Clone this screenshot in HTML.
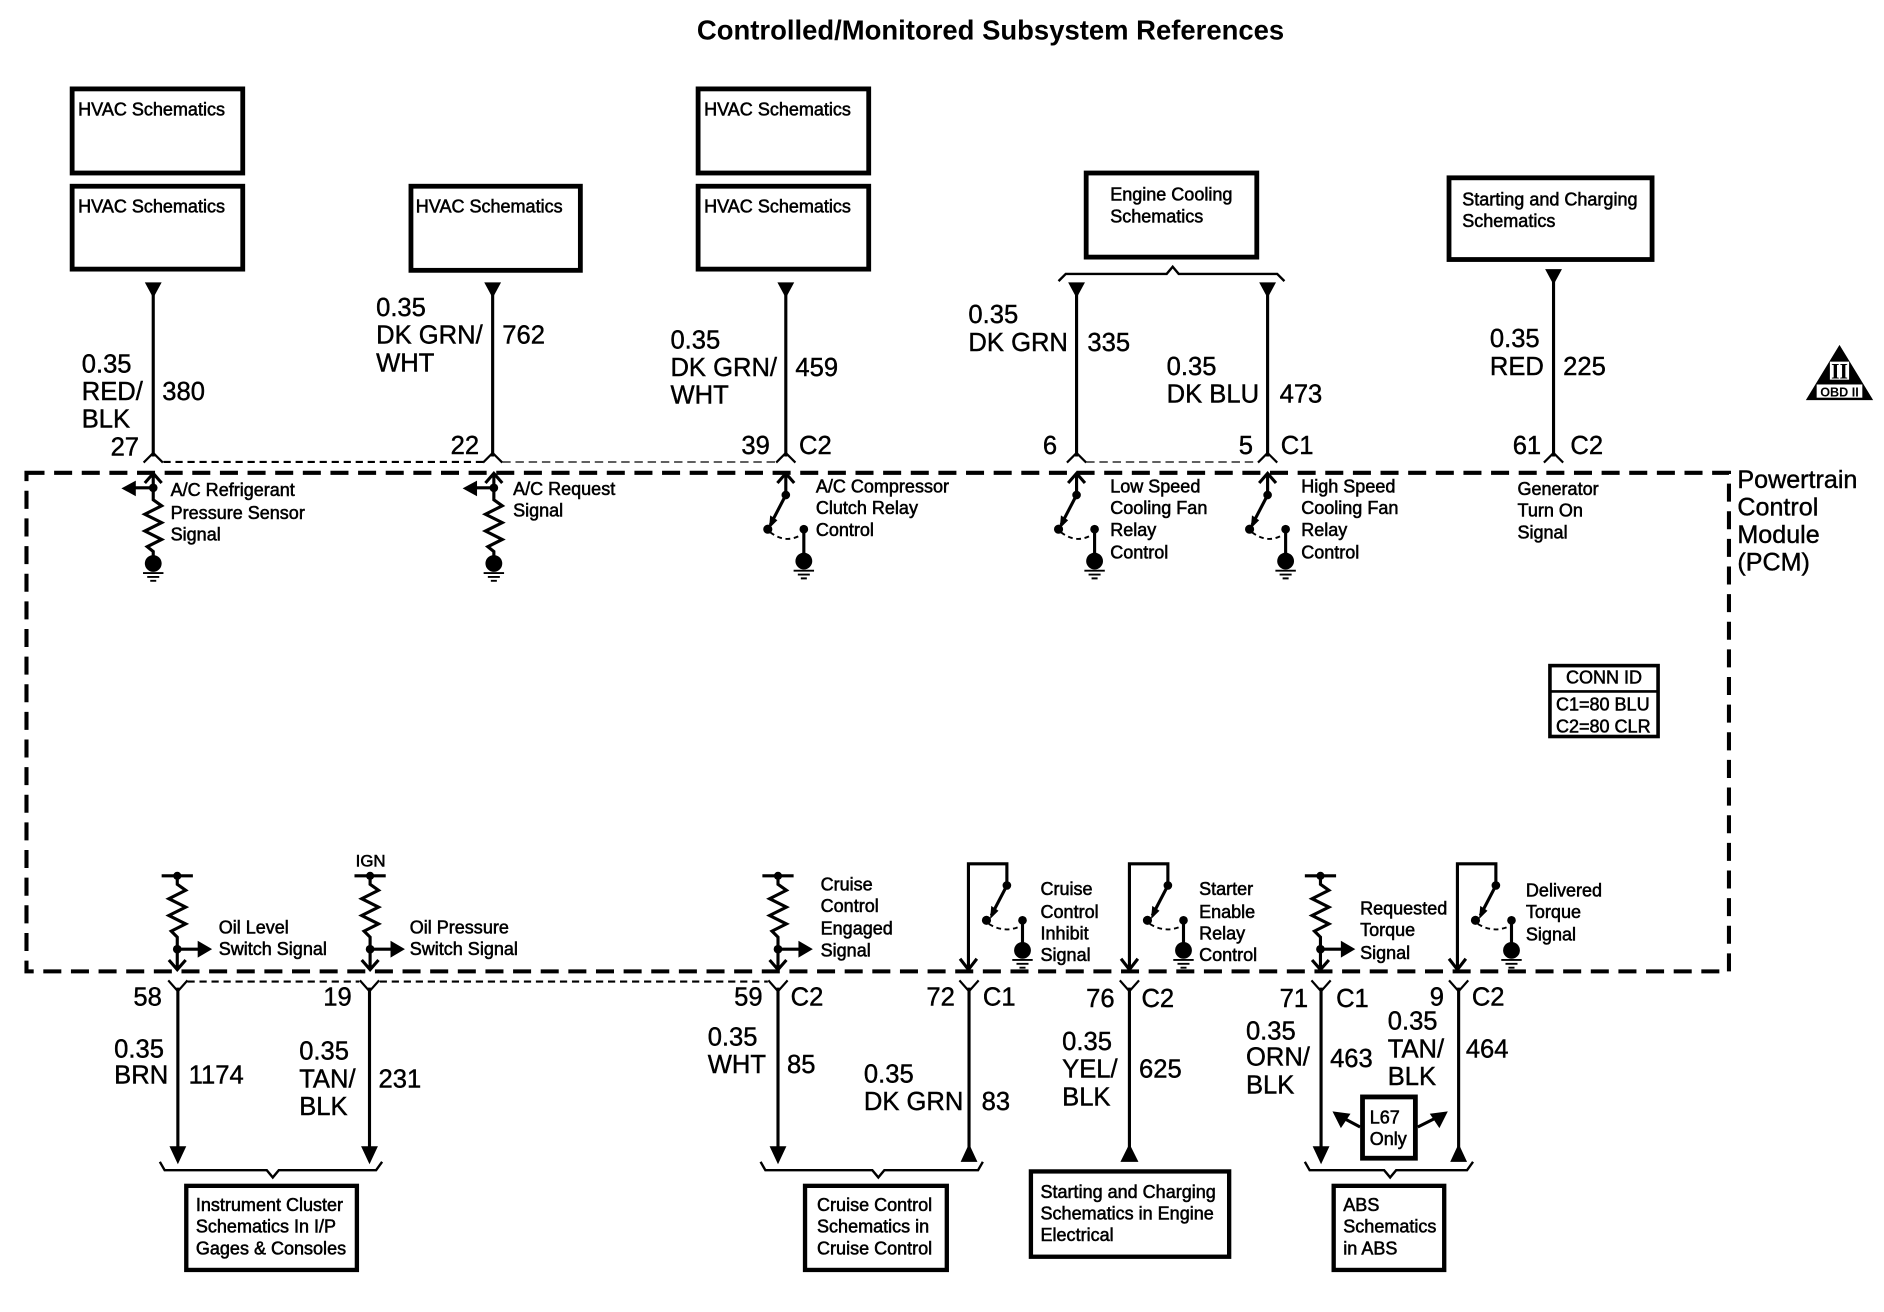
<!DOCTYPE html>
<html><head><meta charset="utf-8"><title>Controlled/Monitored Subsystem References</title>
<style>
html,body{margin:0;padding:0;background:#fff}
svg{display:block}
text{font-family:"Liberation Sans",Arial,sans-serif;fill:#000}
.l{font-size:21.3px;stroke:#000;stroke-width:.35px;transform:translate(0,-1px)}
.s{font-size:15px;stroke:#000;stroke-width:.45px}
.w{fill:none;stroke:#000;stroke-width:2.6}
.b{fill:#fff;stroke:#000;stroke-width:4}
.b2{fill:#fff;stroke:#000;stroke-width:3.6}
</style></head><body>
<svg xmlns="http://www.w3.org/2000/svg" width="1884" height="1312" viewBox="0 0 1568 1092">
<defs>
<g id="gnd"><circle r="7" fill="#000"/><path d="M-8.5,8H8.5M-5,11.2H5M-2.5,14.4H2.5" stroke="#000" stroke-width="1.6" fill="none"/></g>
<g id="pd"><path class="w" d="M-7,9L0,1L7,9M0,1V23L7,28L-7,35L7,42L-7,49L7,56L-5,62L0,66V72"/><circle cy="13" r="3.6" fill="#000"/><use href="#gnd" y="76"/></g>
<g id="sw"><path class="w" d="M-7,9L0,1L7,9M0,1V19"/><circle cy="19" r="3.6" fill="#000"/><path class="w" d="M0,19L-13,44"/><path d="M-14,47L-13,36L-7,40Z" fill="#000"/><circle cx="-15" cy="47.5" r="3.8" fill="#000"/><circle cx="15" cy="47.5" r="3.6" fill="#000"/><path d="M-13,50Q0,60 13,52" fill="none" stroke="#000" stroke-width="1.6" stroke-dasharray="4 3"/><path class="w" d="M15,47V74"/><use href="#gnd" x="15" y="74"/></g>
<g id="bpu"><path class="w" d="M-13,-79H13M0,-79V-72L7,-67L-7,-60L7,-53L-7,-46L7,-39L-5,-33L0,-28V-2M-7,-9L0,-1L7,-9M0,-18H18"/><circle cy="-79" r="3.4" fill="#000"/><circle cy="-18" r="3.6" fill="#000"/><path d="M17,-25L29,-18L17,-11Z" fill="#000"/></g>
<g id="bsw"><path class="w" d="M0,-2V-89H32V-71M-7,-10L0,-1L7,-10"/><circle cx="32" cy="-71" r="3.6" fill="#000"/><path class="w" d="M32,-71L19,-46"/><path d="M18,-43L19,-54L25,-50Z" fill="#000"/><circle cx="15" cy="-42" r="3.8" fill="#000"/><circle cx="45" cy="-42" r="3.6" fill="#000"/><path d="M17,-39Q30,-31 43,-37" fill="none" stroke="#000" stroke-width="1.6" stroke-dasharray="4 3"/><path class="w" d="M45,-42V-17"/><use href="#gnd" x="45" y="-17"/></g>
<g id="td"><path d="M-7,0H7L0,13Z" fill="#000"/></g>
<g id="con"><path d="M-8,7L0,-1L8,7" fill="none" stroke="#000" stroke-width="1.8"/></g>
<g id="conb"><path d="M-8,-4L0,5L8,-4" fill="none" stroke="#000" stroke-width="1.8"/></g>
</defs>

<text x="580" y="33" style="font-size:22.86px;font-weight:bold">Controlled/Monitored Subsystem References</text>

<!-- top boxes -->
<rect class="b" x="60" y="74" width="142" height="70"/>
<rect class="b" x="60" y="155" width="142" height="69"/>
<rect class="b" x="342" y="155" width="141" height="70"/>
<rect class="b" x="581" y="74" width="142" height="70"/>
<rect class="b" x="581" y="155" width="142" height="69"/>
<rect class="b" x="904" y="144" width="142" height="70"/>
<rect class="b" x="1206" y="148" width="169" height="68"/>
<text class="s" x="65" y="96">HVAC Schematics</text>
<text class="s" x="65" y="177">HVAC Schematics</text>
<text class="s" x="346" y="177">HVAC Schematics</text>
<text class="s" x="586" y="96">HVAC Schematics</text>
<text class="s" x="586" y="177">HVAC Schematics</text>
<text class="s" x="924" y="167">Engine Cooling</text>
<text class="s" x="924" y="185">Schematics</text>
<text class="s" x="1217" y="171">Starting and Charging</text>
<text class="s" x="1217" y="189">Schematics</text>

<!-- top brace -->
<path d="M881,234L887,228H971L976,222L981,228H1063L1069,234" fill="none" stroke="#000" stroke-width="2"/>

<!-- top wires -->
<path class="w" d="M127.5,240V380M410,240V380M654,240V380M896,240V380M1055,240V380M1293,230V380"/>
<use href="#td" x="127.5" y="235"/><use href="#td" x="410" y="235"/><use href="#td" x="654" y="235"/><use href="#td" x="896" y="235"/><use href="#td" x="1055" y="235"/><use href="#td" x="1293" y="224"/>
<use href="#con" x="127.5" y="378"/><use href="#con" x="410" y="378"/><use href="#con" x="654" y="378"/><use href="#con" x="896" y="378"/><use href="#con" x="1055" y="378"/><use href="#con" x="1293" y="378"/>
<path d="M136,384.500H402" fill="none" stroke="#000" stroke-width="1.800" stroke-dasharray="6 4"/>
<path d="M418,384.500H646M904,384.500H1047" fill="none" stroke="#000" stroke-width="1" stroke-dasharray="7 4"/>

<!-- PCM box -->
<rect x="22" y="393.500" width="1417" height="415" fill="none" stroke="#000" stroke-width="3.400" stroke-dasharray="15 8"/>

<text class="l" x="1446" y="407" style="font-size:20.9px">Powertrain</text>
<text class="l" x="1446" y="430" style="font-size:20.9px">Control</text>
<text class="l" x="1446" y="453" style="font-size:20.9px">Module</text>
<text class="l" x="1446" y="476" style="font-size:20.9px">(PCM)</text>

<!-- top internal -->
<use href="#pd" x="127.5" y="393"/><path class="w" d="M127.500,406H110"/><path d="M113,400L101,406.500L113,413Z" fill="#000"/>
<use href="#pd" x="411" y="393"/><path class="w" d="M411,406H394"/><path d="M397,400L385,406.500L397,413Z" fill="#000"/>
<use href="#sw" x="654" y="393"/><use href="#sw" x="896" y="393"/><use href="#sw" x="1055" y="393"/>

<text class="s" x="142" y="413">A/C Refrigerant</text><text class="s" x="142" y="432">Pressure Sensor</text><text class="s" x="142" y="450">Signal</text>
<text class="s" x="427" y="412">A/C Request</text><text class="s" x="427" y="430">Signal</text>
<text class="s" x="679" y="410">A/C Compressor</text><text class="s" x="679" y="428">Clutch Relay</text><text class="s" x="679" y="446">Control</text>
<text class="s" x="924" y="410">Low Speed</text><text class="s" x="924" y="428">Cooling Fan</text><text class="s" x="924" y="446">Relay</text><text class="s" x="924" y="465">Control</text>
<text class="s" x="1083" y="410">High Speed</text><text class="s" x="1083" y="428">Cooling Fan</text><text class="s" x="1083" y="446">Relay</text><text class="s" x="1083" y="465">Control</text>
<text class="s" x="1263" y="412">Generator</text><text class="s" x="1263" y="430">Turn On</text><text class="s" x="1263" y="448">Signal</text>

<!-- top wire labels -->
<text class="l" x="68" y="311">0.35</text><text class="l" x="68" y="334">RED/</text><text class="l" x="68" y="357">BLK</text><text class="l" x="135" y="334">380</text><text class="l" x="92" y="380">27</text>
<text class="l" x="313" y="264">0.35</text><text class="l" x="313" y="287">DK GRN/</text><text class="l" x="313" y="310">WHT</text><text class="l" x="418" y="287">762</text><text class="l" x="375" y="379">22</text>
<text class="l" x="558" y="291">0.35</text><text class="l" x="558" y="314">DK GRN/</text><text class="l" x="558" y="337">WHT</text><text class="l" x="662" y="314">459</text><text class="l" x="617" y="379">39</text><text class="l" x="665" y="379">C2</text>
<text class="l" x="806" y="270">0.35</text><text class="l" x="806" y="293">DK GRN</text><text class="l" x="905" y="293">335</text><text class="l" x="868" y="379">6</text>
<text class="l" x="971" y="313">0.35</text><text class="l" x="971" y="336">DK BLU</text><text class="l" x="1065" y="336">473</text><text class="l" x="1031" y="379">5</text><text class="l" x="1066" y="379">C1</text>
<text class="l" x="1240" y="290">0.35</text><text class="l" x="1240" y="313">RED</text><text class="l" x="1301" y="313">225</text><text class="l" x="1259" y="379">61</text><text class="l" x="1307" y="379">C2</text>

<!-- OBD badge -->
<path d="M1531,287L1559,333H1503Z" fill="#000"/>
<rect x="1523" y="301" width="16" height="15" fill="#fff"/>
<text x="1531" y="315" text-anchor="middle" style="font-family:'Liberation Serif',serif;font-weight:bold;font-size:18px">II</text>
<rect x="1512" y="320" width="38" height="11" fill="#fff"/>
<text x="1531" y="330" text-anchor="middle" style="font-size:10.500px;font-weight:bold">OBD II</text>

<!-- conn id -->
<rect x="1290" y="554" width="90" height="59" fill="#fff" stroke="#000" stroke-width="3"/>
<path d="M1290,575.500H1380" stroke="#000" stroke-width="2.200"/>
<text class="s" x="1335" y="569" text-anchor="middle">CONN ID</text>
<text class="s" x="1295" y="591.500">C1=80 BLU</text>
<text class="s" x="1295" y="609.500">C2=80 CLR</text>

<!-- bottom internal -->
<use href="#bpu" x="147.5" y="808"/><use href="#bpu" x="308" y="808"/><use href="#bpu" x="647.5" y="808"/><use href="#bpu" x="1099" y="808"/>
<use href="#bsw" x="806" y="808"/><use href="#bsw" x="940" y="808"/><use href="#bsw" x="1213" y="808"/>

<g transform="translate(0,-1)">
<text class="s" x="296" y="722" style="font-size:14px">IGN</text>
<text class="s" x="182" y="778">Oil Level</text><text class="s" x="182" y="796">Switch Signal</text>
<text class="s" x="341" y="778">Oil Pressure</text><text class="s" x="341" y="796">Switch Signal</text>
<text class="s" x="683" y="742">Cruise</text><text class="s" x="683" y="760">Control</text><text class="s" x="683" y="779">Engaged</text><text class="s" x="683" y="797">Signal</text>
<text class="s" x="866" y="746">Cruise</text><text class="s" x="866" y="765">Control</text><text class="s" x="866" y="783">Inhibit</text><text class="s" x="866" y="801">Signal</text>
<text class="s" x="998" y="746">Starter</text><text class="s" x="998" y="765">Enable</text><text class="s" x="998" y="783">Relay</text><text class="s" x="998" y="801">Control</text>
<text class="s" x="1132" y="762">Requested</text><text class="s" x="1132" y="780">Torque</text><text class="s" x="1132" y="799">Signal</text>
<text class="s" x="1270" y="747">Delivered</text><text class="s" x="1270" y="765">Torque</text><text class="s" x="1270" y="784">Signal</text>
</g>

<!-- bottom wires -->
<path class="w" d="M148,822V958M307.500,822V958M647.500,822V958M806.500,822V958M940,822V958M1099.500,822V958M1214,822V958"/>
<use href="#conb" x="148" y="820"/><use href="#conb" x="307.500" y="820"/><use href="#conb" x="647.500" y="820"/><use href="#conb" x="806.500" y="820"/><use href="#conb" x="940" y="820"/><use href="#conb" x="1099.500" y="820"/><use href="#conb" x="1214" y="820"/>
<path d="M156,817H299M316,817H639" fill="none" stroke="#000" stroke-width="1.800" stroke-dasharray="6 4"/>
<path d="M141,954H155L148,969Z M300.500,954H314.500L307.500,969Z M640.500,954H654.500L647.500,969Z M1092.500,954H1106.500L1099.500,969Z" fill="#000"/>
<path d="M799.500,967H813.500L806.500,952Z M932.500,967H947.500L940,952Z M1207,967H1221L1214,952Z" fill="#000"/>

<!-- bottom braces -->
<g fill="none" stroke="#000" stroke-width="2">
<path d="M133,967L137,974H222L227,980L232,974H313L318,967"/>
<path d="M633,967L637,974H726L731,980L736,974H814L818,967"/>
<path d="M1086,967L1090,974H1152L1157,980L1162,974H1221L1226,967"/>
</g>

<!-- bottom wire labels -->
<text class="l" x="111" y="838">58</text><text class="l" x="95" y="881">0.35</text><text class="l" x="95" y="903">BRN</text><text class="l" x="157" y="903">1174</text>
<text class="l" x="269" y="838">19</text><text class="l" x="249" y="883">0.35</text><text class="l" x="249" y="906">TAN/</text><text class="l" x="249" y="929">BLK</text><text class="l" x="315" y="906">231</text>
<text class="l" x="611" y="838">59</text><text class="l" x="658" y="838">C2</text><text class="l" x="589" y="871">0.35</text><text class="l" x="589" y="894">WHT</text><text class="l" x="655" y="894">85</text>
<text class="l" x="771" y="838">72</text><text class="l" x="818" y="838">C1</text><text class="l" x="719" y="902">0.35</text><text class="l" x="719" y="925">DK GRN</text><text class="l" x="817" y="925">83</text>
<text class="l" x="904" y="839">76</text><text class="l" x="950" y="839">C2</text><text class="l" x="884" y="875">0.35</text><text class="l" x="884" y="898">YEL/</text><text class="l" x="884" y="921">BLK</text><text class="l" x="948" y="898">625</text>
<text class="l" x="1065" y="839">71</text><text class="l" x="1112" y="839">C1</text><text class="l" x="1037" y="866">0.35</text><text class="l" x="1037" y="888">ORN/</text><text class="l" x="1037" y="911">BLK</text><text class="l" x="1107" y="889">463</text>
<text class="l" x="1190" y="838">9</text><text class="l" x="1225" y="838">C2</text><text class="l" x="1155" y="858">0.35</text><text class="l" x="1155" y="881">TAN/</text><text class="l" x="1155" y="904">BLK</text><text class="l" x="1220" y="881">464</text>

<!-- L67 -->
<rect class="b" x="1134" y="913" width="44" height="51"/>
<text class="s" x="1140" y="935">L67</text><text class="s" x="1140" y="953">Only</text>
<path class="w" d="M1132,938L1117,930M1180,938L1196,930"/>
<path d="M1109,925L1124,927L1116,939Z M1205,925L1190,927L1198,939Z" fill="#000"/>

<!-- bottom boxes -->
<rect class="b2" x="155" y="987" width="142" height="70"/>
<rect class="b2" x="670" y="987" width="118" height="70"/>
<rect class="b2" x="858" y="975" width="165" height="71"/>
<rect class="b2" x="1110" y="987" width="92" height="70"/>
<g transform="translate(0,-1)">
<text class="s" x="163" y="1009">Instrument Cluster</text><text class="s" x="163" y="1027">Schematics In I/P</text><text class="s" x="163" y="1045">Gages &amp; Consoles</text>
<text class="s" x="680" y="1009">Cruise Control</text><text class="s" x="680" y="1027">Schematics in</text><text class="s" x="680" y="1045">Cruise Control</text>
<text class="s" x="866" y="998">Starting and Charging</text><text class="s" x="866" y="1016">Schematics in Engine</text><text class="s" x="866" y="1034">Electrical</text>
<text class="s" x="1118" y="1009">ABS</text><text class="s" x="1118" y="1027">Schematics</text><text class="s" x="1118" y="1045">in ABS</text>
</g>
</svg>
</body></html>
